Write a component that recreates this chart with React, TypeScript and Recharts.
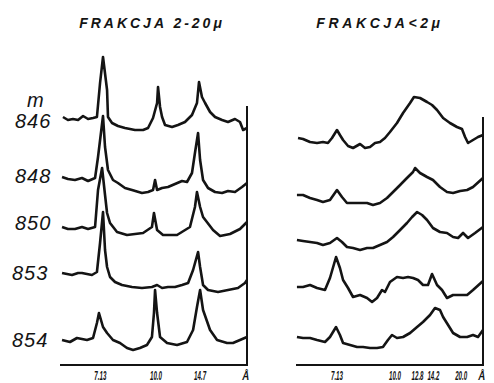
import { LineChart, Line, XAxis, YAxis } from "recharts";

// X-ray diffraction traces: x = 2θ (deg, Cu Kα), y = relative intensity
type Pt = [number, number];

const samples = ["846", "848", "850", "853", "854"];

// fraction 2-20 µm
const coarse846: Pt[] = [
  [14.81, 1], [14.49, -2], [14.17, -1], [13.84, -2], [13.52, 2], [13.2, -1], [12.88, 0], [12.63, 1],
  [12.43, 35], [12.24, 61], [11.98, 28], [11.92, 1], [11.66, -5], [11.28, -8], [10.83, -10], [10.19, -12],
  [9.67, -12], [9.35, -10], [9.03, 0], [8.77, 15], [8.71, 31], [8.58, 11], [8.45, 1], [8.26, -7],
  [7.81, -9], [7.43, -7], [6.98, -4], [6.53, 3], [6.21, 15], [6.08, 36], [5.89, 21], [5.69, 15],
  [5.37, 6], [5.05, 1], [4.6, -2], [4.22, -4], [3.77, -1], [3.45, -4], [3.25, -12], [3.0, -10],
];
const coarse848: Pt[] = [
  [14.87, 2], [14.49, 0], [14.04, -1], [13.59, 1], [13.2, -2], [12.75, 1], [12.56, 22], [12.24, 63],
  [12.11, 32], [11.92, 9], [11.6, -1], [11.28, -4], [10.83, -9], [10.38, -11], [9.74, -14], [9.35, -13],
  [9.03, -11], [8.9, -1], [8.77, -11], [8.45, -9], [8.07, -8], [7.62, -5], [7.17, -2], [6.85, -3],
  [6.53, 6], [6.34, 26], [6.14, 46], [6.01, 19], [5.82, -1], [5.5, -9], [5.05, -13], [4.6, -14],
  [4.22, -12], [3.77, -13], [3.32, -8], [3.0, -4],
];
const coarse850: Pt[] = [
  [14.87, 1], [14.49, -1], [14.04, -1], [13.59, 1], [13.2, -1], [12.75, 1], [12.56, 38], [12.3, 60],
  [12.11, 33], [11.98, 15], [11.79, 5], [11.34, -4], [10.7, -7], [9.67, -5], [9.1, 1], [8.97, 15],
  [8.77, -2], [8.39, -7], [7.49, -7], [6.66, 1], [6.34, 21], [6.21, 36], [6.01, 21], [5.82, 11],
  [5.18, -2], [4.73, -8], [4.09, -6], [3.45, -1], [3.0, 6],
];
const coarse853: Pt[] = [
  [14.87, 1], [14.23, -1], [13.84, 1], [13.59, 1], [12.95, -1], [12.63, 2], [12.43, 31], [12.24, 62],
  [12.11, 24], [11.98, 7], [11.79, -3], [11.47, -8], [11.02, -11], [10.38, -13], [9.74, -14], [9.1, -13],
  [8.77, -11], [8.45, -14], [8.07, -13], [7.62, -13], [7.17, -11], [6.78, -9], [6.46, 4], [6.14, 22],
  [6.01, 7], [5.82, -11], [5.5, -16], [4.86, -18], [4.22, -16], [3.58, -14], [3.13, -9], [3.0, -6],
];
const coarse854: Pt[] = [
  [14.87, 0], [14.36, -2], [13.91, 2], [13.27, 0], [12.88, 2], [12.63, 17], [12.5, 27], [12.24, 13],
  [11.98, 7], [11.6, 0], [11.15, -3], [10.7, -8], [10.31, -10], [9.87, -8], [9.42, -5], [9.1, 3],
  [8.97, 27], [8.9, 50], [8.77, 27], [8.58, 3], [8.13, -3], [7.49, -5], [6.85, -2], [6.46, 10],
  [6.21, 33], [6.01, 50], [5.82, 30], [5.37, 10], [4.92, 0], [4.28, -3], [3.9, -3], [3.45, 0], [3.0, 3],
];

// fraction < 2 µm
const fine846: Pt[] = [
  [14.87, 2], [14.55, 1], [14.1, -2], [13.65, -3], [13.27, -2], [12.95, -3], [12.69, 2], [12.37, 10],
  [12.18, 5], [11.98, 0], [11.66, -6], [11.34, -8], [10.89, -4], [10.57, -8], [10.25, -7], [9.93, -3],
  [9.61, -2], [9.29, 2], [8.97, 8], [8.52, 17], [8.13, 27], [7.68, 37], [7.43, 43], [7.04, 42],
  [6.59, 38], [6.27, 35], [5.95, 30], [5.56, 22], [5.12, 17], [4.67, 13], [4.35, 11], [4.15, 3],
  [3.96, -3], [3.64, 0], [3.32, 3], [3.0, 5],
];
const fine848: Pt[] = [
  [14.94, 1], [14.55, 1], [14.1, -2], [13.65, -4], [13.27, -6], [12.82, -4], [12.37, 6], [12.05, -1],
  [11.73, -7], [11.34, -7], [10.89, -7], [10.44, -7], [10.06, -9], [9.61, -7], [9.16, -2], [8.77, 4],
  [8.32, 11], [7.88, 18], [7.49, 24], [7.36, 28], [7.04, 23], [6.59, 19], [6.21, 16], [5.76, 9],
  [5.31, 4], [4.92, 3], [4.47, 5], [4.02, 6], [3.64, 9], [3.0, 18],
];
const fine850: Pt[] = [
  [14.94, 1], [14.55, 0], [14.1, -1], [13.65, -2], [13.27, -4], [12.82, -2], [12.37, 3], [12.05, -1],
  [11.73, -6], [11.34, -7], [10.89, -9], [10.44, -7], [10.06, -7], [9.61, -4], [9.16, -1], [8.77, 4],
  [8.32, 11], [7.88, 18], [7.55, 24], [7.23, 29], [6.91, 26], [6.59, 21], [6.21, 13], [5.76, 9],
  [5.31, 8], [4.92, 4], [4.6, 3], [4.28, 8], [3.96, 3], [3.51, 8], [3.0, 14],
];
const fine853: Pt[] = [
  [14.94, 0], [14.55, 0], [14.1, 2], [13.65, -1], [13.14, -3], [12.82, 9], [12.43, 30], [12.18, 19],
  [11.98, 7], [11.66, -1], [11.34, -10], [10.89, -8], [10.44, -11], [10.12, -15], [9.8, -11], [9.48, -3],
  [9.29, -5], [8.97, 5], [8.52, 10], [8.13, 9], [7.81, 10], [7.49, 9], [7.17, 7], [6.85, 2],
  [6.53, 2], [6.27, 13], [5.95, 2], [5.63, -3], [5.31, -11], [4.92, -8], [4.47, -8], [4.02, -8],
  [3.64, -3], [3.0, 6],
];
const fine854: Pt[] = [
  [14.94, 1], [14.55, 0], [14.1, 0], [13.65, -2], [13.14, -4], [12.82, 1], [12.43, 11], [12.18, 3],
  [11.98, -5], [11.53, -7], [11.08, -9], [10.7, -9], [10.25, -10], [9.8, -10], [9.42, -9], [9.1, -2],
  [8.84, 3], [8.52, 0], [8.13, 1], [7.68, 5], [7.23, 11], [6.85, 16], [6.4, 23], [6.08, 30],
  [5.76, 28], [5.56, 21], [5.24, 13], [4.92, 5], [4.47, 1], [4.02, 1], [3.64, 3], [3.32, 1], [3.0, 8],
];

// vertical shift of each trace in the stack
const coarseOffsets = [247, 186, 137, 91, 25];
const fineOffsets = [225, 169, 124, 78, 27];

const coarseTicks = [12.41, 8.84, 6.01, 3.08];
const coarseTickLabels = ["7.13", "10.0", "14.7", "Å"];
const fineTicks = [12.37, 8.65, 7.2, 6.18, 4.4, 3.08];
const fineTickLabels = ["7.13", "10.0", "12.8", "14.2", "20.0", "Å"];

const INK = "#141414";
const HAND = "'Liberation Sans', 'DejaVu Sans', sans-serif";

// plot box shared by both panels
const PLOT_TOP = 50;
const PLOT_W = 187;
const AXIS_Y = 365;

function stack(traces: Pt[][], offsets: number[]) {
  return traces.map((tr, i) => tr.map(([t, v]) => ({ t, y: offsets[i] + v })));
}

function makeTick(ticks: number[], labels: string[]) {
  return (props: any) => {
    const { x, y, payload } = props;
    const label = labels[ticks.indexOf(payload.value)];
    const w = label === "Å" ? 7 : 12;
    return (
      <text
        x={x}
        y={y + 7}
        textAnchor="middle"
        fontFamily={HAND}
        fontStyle="italic"
        fontWeight="bold"
        fontSize={12}
        textLength={w}
        lengthAdjust="spacingAndGlyphs"
        fill={INK}
      >
        {label}
      </text>
    );
  };
}

function Panel({
  traces,
  ticks,
  labels,
  left,
  marginLeft,
}: {
  traces: { t: number; y: number }[][];
  ticks: number[];
  labels: string[];
  left: number;
  marginLeft: number;
}) {
  return (
    <div style={{ position: "absolute", left, top: 0 }}>
      <LineChart
        width={marginLeft + PLOT_W + 12}
        height={383}
        margin={{ top: PLOT_TOP, right: 12, left: marginLeft, bottom: 0 }}
      >
        <XAxis
          type="number"
          dataKey="t"
          domain={[3, 15]}
          reversed
          ticks={ticks}
          interval={0}
          height={18}
          tickLine={false}
          axisLine={{ stroke: INK, strokeWidth: 2 }}
          tick={makeTick(ticks, labels)}
        />
        <YAxis type="number" domain={[0, 315]} hide />
        {traces.map((d, i) => (
          <Line
            key={i}
            data={d}
            dataKey="y"
            type="linear"
            stroke={INK}
            strokeWidth={2.6}
            strokeLinejoin="round"
            dot={false}
            isAnimationActive={false}
          />
        ))}
      </LineChart>
    </div>
  );
}

export default function App() {
  const coarse = stack([coarse846, coarse848, coarse850, coarse853, coarse854], coarseOffsets);
  const fine = stack([fine846, fine848, fine850, fine853, fine854], fineOffsets);
  const labelBase = [128, 183, 230, 280, 347];
  const labelX = [15, 15, 15, 12, 12];

  // right-hand frame edges at the end of each scan
  const coarseEdgeX = 60 + PLOT_W;
  const fineEdgeX = 260 + 36 + PLOT_W;

  return (
    <div
      style={{
        position: "absolute",
        left: 0,
        top: 0,
        width: 494,
        height: 383,
        background: "#fff",
        overflow: "hidden",
      }}
    >
      <Panel traces={coarse} ticks={coarseTicks} labels={coarseTickLabels} left={0} marginLeft={60} />
      <Panel traces={fine} ticks={fineTicks} labels={fineTickLabels} left={260} marginLeft={36} />
      <svg width={494} height={383} style={{ position: "absolute", left: 0, top: 0, pointerEvents: "none" }}>
        <line x1={coarseEdgeX} y1={106} x2={coarseEdgeX} y2={AXIS_Y + 1} stroke={INK} strokeWidth={2} />
        <line x1={fineEdgeX} y1={117} x2={fineEdgeX} y2={AXIS_Y + 1} stroke={INK} strokeWidth={2} />
        <g fontFamily={HAND} fontStyle="italic" fill={INK}>
          <text x={152} y={28} textAnchor="middle" fontSize={14} fontWeight="bold" letterSpacing={3}>
            FRAKCJA 2-20μ
          </text>
          <text x={380} y={28} textAnchor="middle" fontSize={14} fontWeight="bold" letterSpacing={3.6}>
            FRAKCJA&lt;2μ
          </text>
          <text x={27} y={107} fontSize={20}>
            m
          </text>
          {samples.map((s, i) => (
            <text key={s} x={labelX[i]} y={labelBase[i]} fontSize={20} letterSpacing={1}>
              {s}
            </text>
          ))}
        </g>
      </svg>
    </div>
  );
}
